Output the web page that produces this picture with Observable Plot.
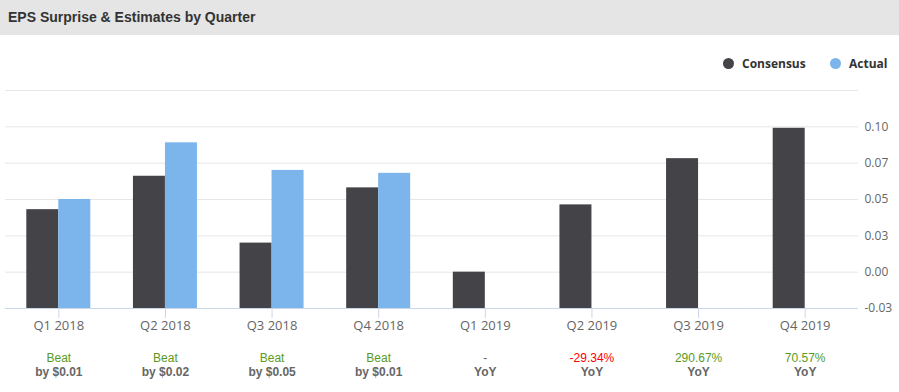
<!DOCTYPE html>
<html>
<head>
<meta charset="utf-8">
<script src="https://cdn.jsdelivr.net/npm/d3@7"></script>
<script src="https://cdn.jsdelivr.net/npm/@observablehq/plot@0.6"></script>
<style>
  html, body { margin: 0; padding: 0; background: #fff; }
  #page { position: relative; width: 899px; height: 392px; overflow: hidden; }
  #header { height: 35px; background: #e5e5e5; position: relative; }
  #title { position: absolute; left: 8px; top: 9px; font-family: "Liberation Sans", Arial, sans-serif; font-weight: bold; font-size: 14px; color: #333; }
  #legend { position: absolute; top: 35px; left: 0; width: 899px; height: 40px; font-family: "Open Sans", sans-serif; font-weight: bold; font-size: 12px; color: #333; }
  .li { position: absolute; top: 20px; display: flex; align-items: center; }
  .dot { width: 11px; height: 11px; border-radius: 50%; margin-right: 8px; }
  #chart { position: absolute; top: 35px; left: 0; }
</style>
</head>
<body>
<div id="page">
  <div id="header"><div id="title">EPS Surprise &amp; Estimates by Quarter</div></div>
  <div id="chart"></div>
  <div id="legend"></div>
</div>
<script>
const quarters = ["Q1 2018", "Q2 2018", "Q3 2018", "Q4 2018", "Q1 2019", "Q2 2019", "Q3 2019", "Q4 2019"];
const series = ["Consensus", "Actual"];
const consensus = [0.043, 0.066, 0.020, 0.058, 0.000, 0.0463, 0.0781, 0.0990];
const actual = [0.050, 0.089, 0.070, 0.068, null, null, null, null];
const resultLabels = ["Beat", "Beat", "Beat", "Beat", "-", "-29.34%", "290.67%", "70.57%"];
const resultKinds = ["up", "up", "up", "up", "none", "down", "up", "up"];
const detailLabels = ["by $0.01", "by $0.02", "by $0.05", "by $0.01", "YoY", "YoY", "YoY", "YoY"];
const yDomain = [-0.025, 0.125];
const yTicks = [-0.025, 0, 0.025, 0.05, 0.075, 0.1];
const yTickLabels = ["-0.03", "0.00", "0.03", "0.05", "0.07", "0.10"];
const gridTicks = [0, 0.025, 0.05, 0.075, 0.1, 0.125];

const colors = ["#434348", "#7cb5ec"];
const kindColor = {up: "#5a9a1e", down: "#ff0000", none: "#666666"};

const bars = [];
quarters.forEach((q, i) => {
  bars.push({quarter: q, series: "Consensus", value: consensus[i]});
  if (actual[i] != null) bars.push({quarter: q, series: "Actual", value: actual[i]});
});
const notes = quarters.map((q, i) => ({quarter: q, result: resultLabels[i], kind: resultKinds[i], detail: detailLabels[i]}));
const tickLabel = new Map(yTicks.map((t, i) => [t, yTickLabels[i]]));

const chart = Plot.plot({
  width: 899,
  height: 357,
  marginTop: 55,
  marginBottom: 84,
  marginLeft: 5,
  marginRight: 41,
  style: {fontFamily: "'Open Sans', sans-serif", fontSize: "12px", background: "transparent"},
  fx: {domain: quarters, padding: 0, round: false, axis: null, label: null},
  x: {domain: series, paddingInner: 0, paddingOuter: 0.666, round: false, axis: null},
  y: {domain: yDomain, axis: null},
  color: {domain: series, range: colors},
  marks: [
    Plot.gridY(gridTicks, {stroke: "#e6e6e6", strokeOpacity: 1}),
    Plot.barY(bars, {fx: "quarter", x: "series", y1: yDomain[0], y2: "value", fill: "series"}),
    Plot.ruleY([yDomain[0]], {stroke: "#ccd6eb"}),
    Plot.axisFx({anchor: "bottom", tickSize: 10, tickPadding: 2, stroke: "#ccd6eb", fill: "#666", label: null, fontSize: 13}),
    Plot.axisY(yTicks, {anchor: "right", tickSize: 0, tickPadding: 6, fill: "#666", label: null, tickFormat: d => tickLabel.get(d), fontSize: 12}),
    Plot.text(notes, {fx: "quarter", text: "result", frameAnchor: "bottom", lineAnchor: "middle", dy: 50, fill: d => kindColor[d.kind], fontFamily: "'Liberation Sans', Arial, sans-serif", fontSize: 12}),
    Plot.text(notes, {fx: "quarter", text: "detail", frameAnchor: "bottom", lineAnchor: "middle", dy: 64, fill: "#666", fontWeight: "bold", fontFamily: "'Liberation Sans', Arial, sans-serif", fontSize: 12})
  ]
});
document.getElementById("chart").appendChild(chart);

const legend = document.getElementById("legend");
const legendLeft = [723, 830];
series.forEach((s, i) => {
  const item = document.createElement("div");
  item.className = "li";
  item.style.left = legendLeft[i] + "px";
  const dot = document.createElement("span");
  dot.className = "dot";
  dot.style.background = colors[i];
  const label = document.createElement("span");
  label.textContent = s;
  item.appendChild(dot);
  item.appendChild(label);
  legend.appendChild(item);
});
</script>
</body>
</html>
